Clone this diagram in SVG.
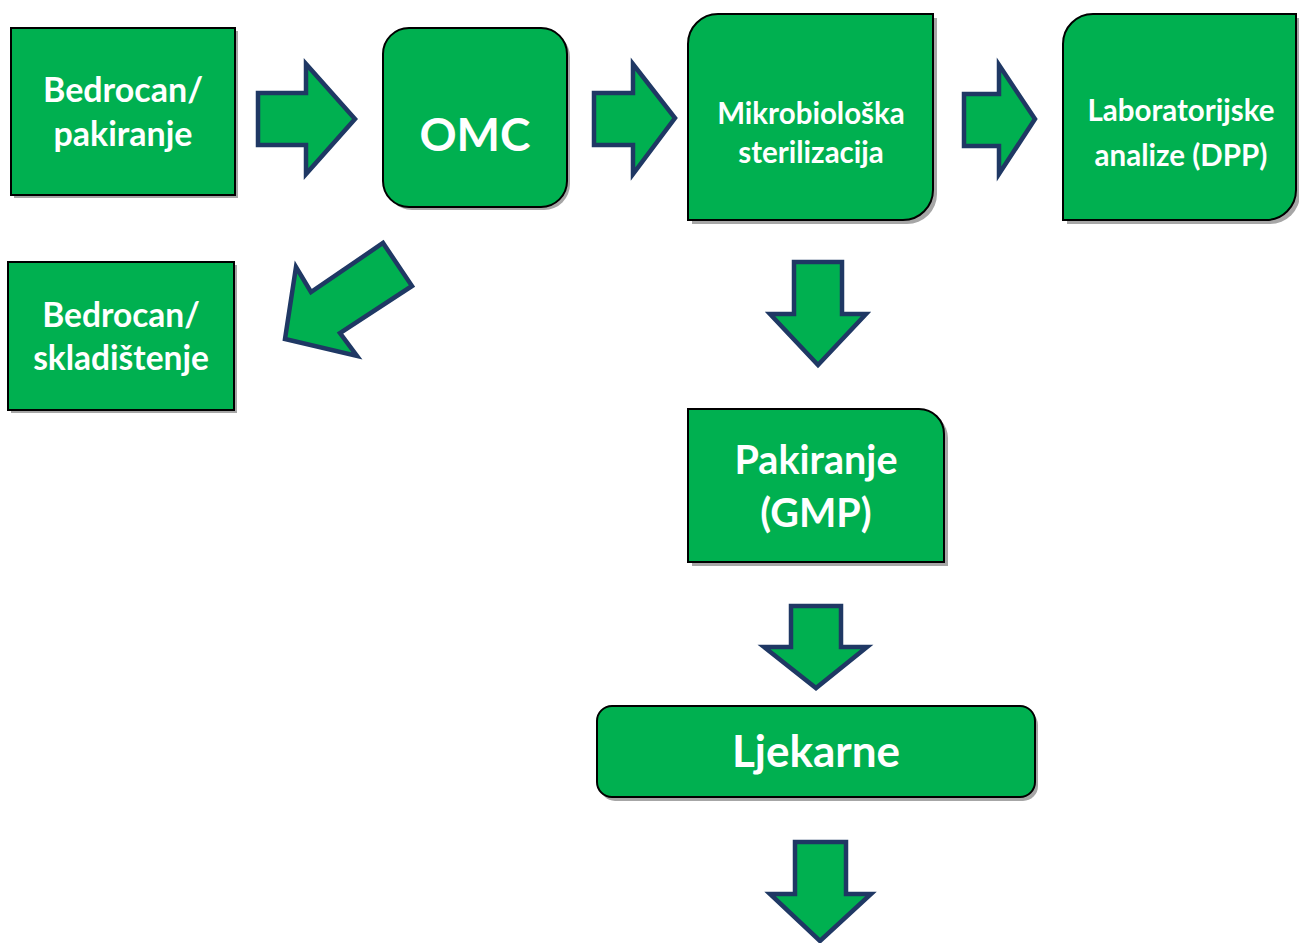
<svg xmlns="http://www.w3.org/2000/svg" width="1299" height="943" viewBox="0 0 1299 943">
<defs>
<style>
.box{fill:#00B050;stroke:#000;stroke-width:2}
.sh{fill:#A6A6A6}
.arr{fill:#00B050;stroke:#1F3864;stroke-width:4.5;stroke-linejoin:miter}
text{font-family:Lato,"Open Sans","Liberation Sans",sans-serif;font-weight:700;fill:#fff;text-anchor:middle}
</style>
</defs>
<rect width="1299" height="943" fill="#fff"/>
<g id="n1">
<rect class="sh" x="14" y="31" width="224" height="167"/>
<rect class="box" x="11" y="28" width="224" height="167"/>
<text x="123" y="102" font-size="34">Bedrocan/</text>
<text x="123" y="146" font-size="34">pakiranje</text>
</g>
<g id="n2">
<rect class="sh" x="386" y="31" width="184" height="179" rx="26"/>
<rect class="box" x="383" y="28" width="184" height="179" rx="26"/>
<text x="475" y="151" font-size="46">OMC</text>
</g>
<g id="n3">
<path class="sh" d="M721 18 H937 V194 A30 30 0 0 1 907 224 H692 V48 A30 30 0 0 1 721 18Z"/>
<path class="box" d="M718 14 H933 V190 A30 30 0 0 1 903 220 H688 V44 A30 30 0 0 1 718 14Z"/>
<text x="811" y="124" font-size="29.5">Mikrobiološka</text>
<text x="811" y="163" font-size="29.5">sterilizacija</text>
</g>
<g id="n4">
<path class="sh" d="M1097 18 H1300 V194 A30 30 0 0 1 1270 224 H1067 V48 A30 30 0 0 1 1097 18Z"/>
<path class="box" d="M1093 14 H1296 V190 A30 30 0 0 1 1266 220 H1063 V44 A30 30 0 0 1 1093 14Z"/>
<text x="1181" y="121" font-size="29.5">Laboratorijske</text>
<text x="1181" y="166" font-size="29.5">analize (DPP)</text>
</g>
<g id="n5">
<rect class="sh" x="11" y="265" width="226" height="148"/>
<rect class="box" x="8" y="262" width="226" height="148"/>
<text x="121" y="327" font-size="33.5">Bedrocan/</text>
<text x="121" y="370" font-size="33.5">skladištenje</text>
</g>
<g id="n6">
<path class="sh" d="M692 413 H923 A25 25 0 0 1 948 438 V566 H692Z"/>
<path class="box" d="M688 409 H919 A25 25 0 0 1 944 434 V562 H688Z"/>
<text x="816" y="474" font-size="39.5">Pakiranje</text>
<text x="816" y="527" font-size="39.5">(GMP)</text>
</g>
<g id="n7">
<rect class="sh" x="600" y="710" width="438" height="91" rx="15"/>
<rect class="box" x="597" y="706" width="438" height="91" rx="15"/>
<text x="816" y="767" font-size="44">Ljekarne</text>
</g>
<g id="connectors">
<polygon class="arr" points="258,93 306,93 306,64 355,119 306,174 306,145 258,145"/>
<polygon class="arr" points="594,93 633,93 633,64 675,118 633,174 633,145 594,145"/>
<polygon class="arr" points="964,94 999,94 999,65 1035,119 999,174 999,146 964,146"/>
<polygon class="arr" points="285,339 296,267 311,292 383,243 412,286 340,333 357,356"/>
<polygon class="arr" points="794,262 842,262 842,314 866,314 818,365 770,314 794,314"/>
<polygon class="arr" points="791,606 841,606 841,647 867,647 816,688 764,647 791,647"/>
<polygon class="arr" points="795,842 846,842 846,894 871,894 820,941 770,894 795,894"/>
</g>
</svg>
